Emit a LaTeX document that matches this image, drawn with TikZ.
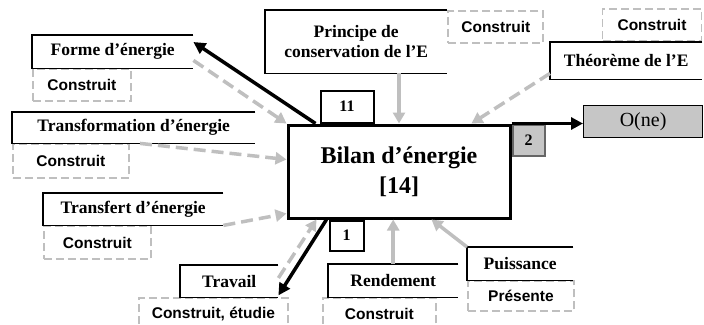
\documentclass[tikz,border=0pt]{standalone}
\usepackage{fontspec}
\setmainfont{Liberation Serif}
\setsansfont{Liberation Sans}
\usetikzlibrary{positioning,calc,arrows.meta}

\begin{document}
\begin{tikzpicture}[x=1pt,y=-1pt,
    title/.style={anchor=north west,inner sep=0pt,align=center,font=\fontsize{17.5}{20}\selectfont\bfseries},
    tag/.style={draw=gray!50,line width=1.8pt,dash pattern=on 8pt off 4pt,inner sep=0pt,font=\fontsize{15.5}{17}\selectfont\sffamily\bfseries},
    numbox/.style={draw,line width=2pt,inner sep=0pt,font=\fontsize{16}{18}\selectfont\bfseries},
    flow/.style={draw=gray!50,line width=3.5pt,-{Triangle[length=11pt,width=12pt]}},
    flowdash/.style={flow,dash pattern=on 12pt off 6pt},
    push/.style={draw=black,line width=3.5pt,-{Triangle[length=12pt,width=12pt]}}
]
    \useasboundingbox (0,0) rectangle (704,324);

    % central node
    \node[draw,line width=3pt,minimum width=222pt,minimum height=93pt,anchor=north west,align=center,
          font=\fontsize{24}{30}\selectfont\bfseries] (bilan) at (286.5,123.5) {Bilan d'énergie\\{[14]}};
    \node[numbox,minimum width=53pt,minimum height=32pt,above right=0pt and 33pt of bilan.north west] (num11) {11};
    \node[numbox,fill=gray!45,draw=gray!80!black,minimum width=32pt,minimum height=31pt,below right=0pt and 0pt of bilan.north east] (num2) {2};
    \node[numbox,minimum width=34pt,minimum height=30pt,below right=0pt and 42pt of bilan.south west] (num1) {1};
    \node[draw,fill=gray!45,line width=1.2pt,minimum width=119pt,minimum height=32pt,anchor=north west,
          font=\fontsize{20}{22}\selectfont] (one) at (583,105) {O(ne)};

    % concepts
    \node[title,minimum width=161pt,minimum height=33pt] (forme) at (32,35) {Forme d'énergie};
    \node[title,minimum width=182pt,minimum height=63pt] (principe) at (265,10) {Principe de\\conservation de l'E};
    \node[title,minimum width=152pt,minimum height=37pt] (theoreme) at (550,42) {Théorème de l'E};
    \node[title,minimum width=243pt,minimum height=31pt] (transfo) at (12,112) {Transformation d'énergie};
    \node[title,minimum width=180pt,minimum height=32pt] (transfert) at (43,193) {Transfert d'énergie};
    \node[title,minimum width=98pt,minimum height=32pt] (travail) at (180,265) {Travail};
    \node[title,minimum width=130pt,minimum height=33pt] (rendement) at (328,264) {Rendement};
    \node[title,minimum width=106pt,minimum height=33pt] (puissance) at (467,247) {Puissance};

    % status tags
    \node[tag,minimum width=98pt,minimum height=32pt,below right=0pt and 0pt of forme.south west] (tforme) {Construit};
    \node[tag,minimum width=95pt,minimum height=32pt,below right=0pt and 0pt of principe.north east] (tprincipe) {Construit};
    \node[tag,minimum width=99pt,minimum height=32pt,above left=0pt and 0pt of theoreme.north east] (ttheoreme) {Construit};
    \node[tag,minimum width=116pt,minimum height=34pt,below right=0pt and 0pt of transfo.south west] (ttransfo) {Construit};
    \node[tag,minimum width=107pt,minimum height=33pt,below right=0pt and 0pt of transfert.south west] (ttransfert) {Construit};
    \node[tag,minimum width=149pt,minimum height=32pt,below right=0pt and -42pt of travail.south west] (ttravail) {Construit, étudie};
    \node[tag,minimum width=113pt,minimum height=32pt,below right=0pt and -6pt of rendement.south west] (trendement) {Construit};
    \node[tag,minimum width=106pt,minimum height=30pt,below right=0pt and 0pt of puissance.south west] (tpuissance) {Présente};

    % open-ended concept frames
    \foreach \n in {forme,principe,theoreme,transfo,transfert,travail,rendement,puissance}
        \draw[line width=1.2pt] (\n.north east) -| (\n.south west) -- (\n.south east);

    % links
    \draw[flowdash] ([yshift=8pt]forme.south east) -- (bilan.north west);
    \draw[flow] (principe.south -| bilan.north) -- (bilan.north);
    \draw[flowdash] ([yshift=6pt]theoreme.south west) -- ([xshift=-40pt]bilan.north east);
    \draw[flowdash] ([xshift=128pt]transfo.south west) -- ([yshift=12pt]bilan.west);
    \draw[flowdash] (transfert.south east) -- ([yshift=6pt]bilan.south west);
    \draw[flowdash] ([yshift=-13pt]travail.north east) -- ([xshift=30pt]bilan.south west);
    \draw[flow] (rendement.north) -- (rendement.north |- bilan.south);
    \draw[flow] (puissance.north west) -- ([xshift=-80pt]bilan.south east);

    \draw[push] ([xshift=29pt]bilan.north west) -- ([yshift=-7pt]forme.north east);
    \draw[push] ([xshift=40pt]bilan.south west) -- ([yshift=2pt]travail.south east);
    \draw[push] (bilan.north east) -- (bilan.north east -| one.west);
\end{tikzpicture}
\end{document}
